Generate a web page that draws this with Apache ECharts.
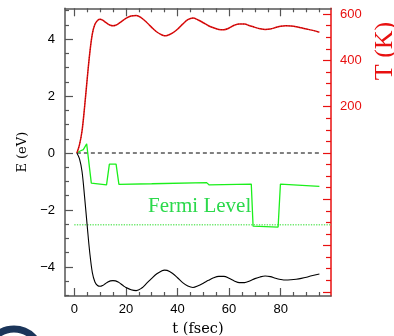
<!DOCTYPE html>
<html>
<head>
<meta charset="utf-8">
<script src="https://cdn.jsdelivr.net/npm/echarts@6/dist/echarts.min.js"></script>
<style>
  html, body { margin: 0; padding: 0; background: #ffffff; }
  #chart { width: 394px; height: 336px; }
</style>
</head>
<body>
<div id="chart"></div>
<script>
// Simulation time (fs) for the temperature and band-edge curves
const timeFs = [1, 2, 3, 4, 5, 6, 7, 8, 9, 10, 11, 12, 13, 14, 15, 16, 17, 18, 19, 20,
  22, 24, 26, 28, 30, 32, 34, 35, 36, 38, 40, 42, 44, 46, 48, 50, 52, 54, 56, 58,
  60, 62, 64, 66, 68, 70, 72, 74, 76, 78, 80, 82, 84, 86, 88, 90, 92, 95];

// Ionic temperature (K), right axis
const temperatureK = [0, 35, 95, 200, 320, 432, 515, 556, 573, 578, 574, 566, 558, 552, 550, 552, 558, 566, 574, 582,
  592, 594, 584, 565, 543, 523, 510, 507, 508, 518, 535, 557, 576, 583, 575, 563, 550, 541, 534, 533,
  540, 552, 558, 557, 550, 543, 537, 534, 536, 542, 548, 550, 549, 546, 541, 536, 531, 522];

// Lower band energy (eV), left axis
const bandEnergy = [0, -0.2, -0.65, -1.55, -2.55, -3.5, -4.2, -4.53, -4.65, -4.68, -4.65, -4.59, -4.53, -4.49, -4.48, -4.49, -4.53, -4.59, -4.66, -4.72,
  -4.80, -4.83, -4.75, -4.58, -4.40, -4.24, -4.13, -4.11, -4.12, -4.22, -4.38, -4.55, -4.67, -4.72, -4.66, -4.57, -4.47, -4.38, -4.33, -4.33,
  -4.40, -4.49, -4.55, -4.55, -4.49, -4.41, -4.35, -4.32, -4.34, -4.40, -4.44, -4.46, -4.45, -4.43, -4.40, -4.36, -4.31, -4.25];

// Occupied level energy (eV) with its jumps
const levelTime = [1, 2.5, 3.5, 4.8, 6.6, 12.5, 13.6, 16.2, 17.3, 30, 51.3, 52.3, 68.6, 69.3, 79, 79.9, 95];
const levelEnergy = [0.01, 0.08, 0.12, 0.32, -1.06, -1.12, -0.39, -0.39, -1.10, -1.08, -1.04, -1.12, -1.09, -2.57, -2.60, -1.09, -1.17];

// Fermi level and reference zero
const fermiLevel = -2.52;
const zeroLevel = 0;
const zeroSpan = [1, 95];

// Axis ranges and ticks
const tRange = [-3.6, 99.5];
const eRange = [-5.02, 5.08];
const kelvinPerEv = 123.1;
const kRange = [eRange[0] * kelvinPerEv, eRange[1] * kelvinPerEv];
const tMajor = [0, 20, 40, 60, 80];
const tMinor = [5, 10, 15, 25, 30, 35, 45, 50, 55, 65, 70, 75, 85, 90, 95];
const eMajor = [-4, -2, 0, 2, 4];
const eMinor = [-4.5, -3.5, -3, -2.5, -1.5, -1, -0.5, 0.5, 1, 1.5, 2.5, 3, 3.5, 4.5, 5, -5];
const kMajor = [-600, -400, -200, 0, 200, 400, 600];
const kMinor = [-550, -500, -450, -350, -300, -250, -150, -100, -50, 50, 100, 150, 250, 300, 350, 450, 500, 550];
const kLabels = [200, 400, 600];

const frameColor = '#555555';
const tempColor = '#e81010';
const levelColor = '#1bef1b';
const sansFont = 'Liberation Sans, Helvetica, Arial, sans-serif';
const serifFont = 'Liberation Serif, Times New Roman, serif';

function tickAxis(base, color, lineOn, ticks, len) {
  return Object.assign({
    type: 'value',
    axisLine: { show: lineOn, onZero: false, lineStyle: { color: color, width: 1.5 } },
    axisTick: { show: true, inside: true, length: len, customValues: ticks, lineStyle: { color: color, width: 1.2 } },
    axisLabel: { show: false },
    splitLine: { show: false }
  }, base);
}

const chart = echarts.init(document.getElementById('chart'), null, { renderer: 'canvas' });

const xAxes = [
  tickAxis({ position: 'bottom', min: tRange[0], max: tRange[1],
    axisLabel: { show: true, customValues: tMajor, margin: 7, fontSize: 13, color: '#000', fontFamily: sansFont },
    name: 't (fsec)', nameLocation: 'middle', nameGap: 26,
    nameTextStyle: { fontFamily: 'DejaVu Serif, serif', fontSize: 14.5, color: '#000' }
  }, frameColor, true, tMajor, 8),
  tickAxis({ position: 'bottom', min: tRange[0], max: tRange[1] }, frameColor, false, tMinor, 4),
  tickAxis({ position: 'top', min: tRange[0], max: tRange[1] }, frameColor, true, tMajor, 8),
  tickAxis({ position: 'top', min: tRange[0], max: tRange[1] }, frameColor, false, tMinor, 4)
];

const yAxes = [
  tickAxis({ position: 'left', min: eRange[0], max: eRange[1],
    axisLabel: { show: true, customValues: eMajor, margin: 10, fontSize: 13, color: '#000', fontFamily: sansFont,
      formatter: v => (v < 0 ? '\u2212' + Math.abs(v) : String(v)) },
    name: 'E (eV)', nameLocation: 'middle', nameGap: 36,
    nameTextStyle: { fontFamily: 'DejaVu Serif, serif', fontSize: 13, color: '#000' }
  }, frameColor, true, eMajor, 8),
  tickAxis({ position: 'left', min: eRange[0], max: eRange[1] }, frameColor, false, eMinor, 4),
  tickAxis({ position: 'right', min: kRange[0], max: kRange[1],
    axisLabel: { show: true, customValues: kLabels, margin: 9, fontSize: 13, color: tempColor, fontFamily: sansFont }
  }, tempColor, true, kMajor, 8),
  tickAxis({ position: 'right', min: kRange[0], max: kRange[1] }, tempColor, false, kMinor, 5)
];

const pairs = (xs, ys) => xs.map((x, i) => [x, ys[i]]);

chart.setOption({
  animation: false,
  backgroundColor: '#ffffff',
  grid: { left: 65, right: 63, top: 8.3, bottom: 40, containLabel: false, outerBoundsMode: 'none' },
  xAxis: xAxes,
  yAxis: yAxes,
  graphic: [
    {
      type: 'text', left: 148, top: 196, z: 10,
      style: { text: 'Fermi Level', fill: '#2bd94b', font: '21px ' + serifFont }
    },
    {
      type: 'text', x: 385, y: 51, rotation: Math.PI / 2, z: 10,
      style: { text: 'T (K)', fill: tempColor, font: '26px ' + serifFont, align: 'center', verticalAlign: 'middle' }
    },
    {
      type: 'circle', shape: { cx: 14, cy: 356, r: 27 }, z: 10,
      style: { fill: 'none', stroke: '#1b355a', lineWidth: 7 }
    }
  ],
  series: [
    {
      name: 'Fermi level', type: 'line', xAxisIndex: 0, yAxisIndex: 0, showSymbol: false,
      data: [[0, fermiLevel], [tRange[1], fermiLevel]],
      lineStyle: { color: '#6fe86f', width: 1.4, type: [1.3, 1.3] }
    },
    {
      name: 'zero', type: 'line', xAxisIndex: 0, yAxisIndex: 0, showSymbol: false,
      data: [[zeroSpan[0], zeroLevel], [zeroSpan[1], zeroLevel]],
      lineStyle: { color: '#000', width: 1, type: [4, 3] }
    },
    {
      name: 'level', type: 'line', xAxisIndex: 0, yAxisIndex: 0, showSymbol: false,
      data: pairs(levelTime, levelEnergy),
      lineStyle: { color: levelColor, width: 1.3 }
    },
    {
      name: 'band', type: 'line', xAxisIndex: 0, yAxisIndex: 0, showSymbol: false, smooth: 0.35,
      data: pairs(timeFs, bandEnergy),
      lineStyle: { color: '#000', width: 1.1 }
    },
    {
      name: 'temperature', type: 'line', xAxisIndex: 0, yAxisIndex: 2, showSymbol: false, smooth: 0.35,
      data: pairs(timeFs, temperatureK),
      lineStyle: { color: tempColor, width: 1.5 }
    },
    {
      name: 'temperature dots', type: 'line', xAxisIndex: 0, yAxisIndex: 2, showSymbol: false, smooth: 0.35,
      data: pairs(timeFs, temperatureK),
      lineStyle: { color: '#5a0000', width: 0.8, type: [1, 1.6], opacity: 0.7 }
    }
  ]
});
</script>
</body>
</html>
